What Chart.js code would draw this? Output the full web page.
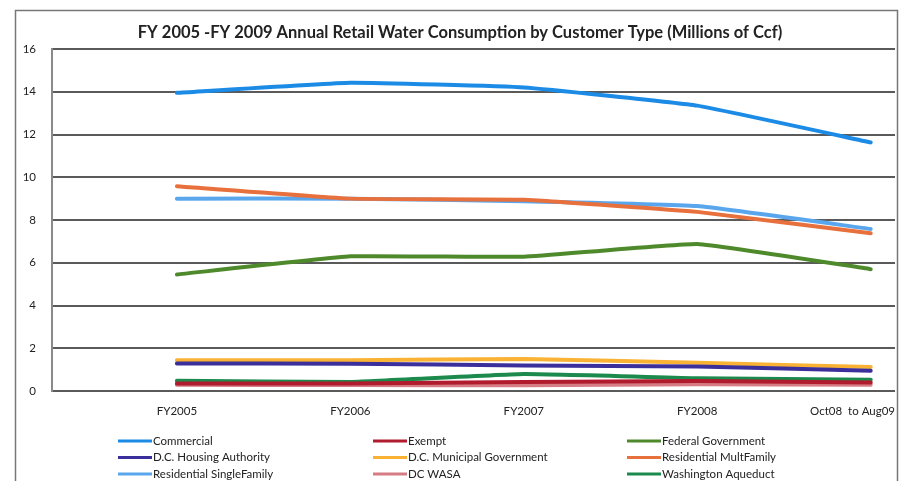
<!DOCTYPE html>
<html>
<head>
<meta charset="utf-8">
<script src="https://cdn.jsdelivr.net/npm/chart.js@4"></script>
<style>
  html, body { margin: 0; padding: 0; background: #fff; }
  #wrap { width: 905px; height: 481px; }
</style>
</head>
<body>
<div id="wrap"><canvas id="myChart" width="905" height="481"></canvas></div>
<script>
// Millions of Ccf per customer type, FY2005 .. Oct08-Aug09
var years = ['FY2005', 'FY2006', 'FY2007', 'FY2008', 'Oct08  to Aug09'];
var yTicks = [0, 2, 4, 6, 8, 10, 12, 14, 16];

var commercial = [13.95, 14.42, 14.2, 13.35, 11.63];
var exempt = [0.35, 0.35, 0.42, 0.47, 0.4];
var federalGov = [5.45, 6.3, 6.28, 6.88, 5.7];
var housingAuthority = [1.29, 1.28, 1.19, 1.15, 0.95];
var municipalGov = [1.44, 1.44, 1.5, 1.32, 1.12];
var residentialMulti = [9.58, 9.0, 8.95, 8.38, 7.38];
var residentialSingle = [9.0, 9.0, 8.88, 8.65, 7.58];
var dcWasa = [0.29, 0.28, 0.27, 0.32, 0.29];
var aqueduct = [0.48, 0.42, 0.79, 0.6, 0.53];

var fontFamily = 'Lato, "Liberation Sans", sans-serif';

function series(label, values, color) {
    return {
        label: label,
        data: values.map(function (v, i) { return { x: i, y: v }; }),
        borderColor: color,
        backgroundColor: color,
        borderWidth: 4,
        pointRadius: 0,
        tension: 0.1,
        borderCapStyle: 'round',
        borderJoinStyle: 'round'
    };
}

// frame, title, category labels and a 3-column legend under the axis
var decorations = {
    id: 'decorations',
    beforeDraw: function (chart) {
        var c = chart.ctx;
        c.save();
        c.strokeStyle = '#777';
        c.lineWidth = 1.5;
        c.strokeRect(15.5, 10.5, 882, 480);
        c.restore();
    },
    afterDraw: function (chart) {
        var c = chart.ctx;
        var area = chart.chartArea;
        c.save();
        c.fillStyle = '#222';
        c.font = 'bold 16.5px ' + fontFamily;
        c.textAlign = 'center';
        c.textBaseline = 'middle';
        c.fillText('FY 2005 -FY 2009 Annual Retail Water Consumption by Customer Type (Millions of Ccf)', 460, 33);

        // category labels, kept inside the plot's right edge
        c.font = '11.5px ' + fontFamily;
        var xs = chart.scales.x;
        years.forEach(function (label, i) {
            var w = c.measureText(label).width;
            var cx = Math.min(xs.getPixelForValue(i), area.right - w / 2);
            c.fillText(label, cx, area.bottom + 20);
        });

        var colX = [118, 373, 627];
        var rowY = [441, 457.5, 474];
        c.textAlign = 'left';
        chart.data.datasets.forEach(function (ds, i) {
            var x = colX[i % 3];
            var y = rowY[Math.floor(i / 3)];
            c.strokeStyle = ds.borderColor;
            c.lineWidth = 3;
            c.beginPath();
            c.moveTo(x, y);
            c.lineTo(x + 34, y);
            c.stroke();
            c.fillStyle = '#222';
            c.fillText(ds.label, x + 35, y);
        });
        c.restore();
    }
};

var ctx = document.getElementById('myChart').getContext('2d');
var myChart = new Chart(ctx, {
    type: 'line',
    data: {
        datasets: [
            series('Commercial', commercial, '#1b8be6'),
            series('Exempt', exempt, '#b01c2e'),
            series('Federal Government', federalGov, '#4e8a2c'),
            series('D.C. Housing Authority', housingAuthority, '#3b2f9c'),
            series('D.C. Municipal Government', municipalGov, '#f9b234'),
            series('Residential MultFamily', residentialMulti, '#e8703c'),
            series('Residential SingleFamily', residentialSingle, '#5aa6ec'),
            series('DC WASA', dcWasa, '#d67c84'),
            series('Washington Aqueduct', aqueduct, '#1b8a4c')
        ]
    },
    options: {
        responsive: false,
        animation: false,
        layout: { padding: { top: 49, right: 10, left: 0, bottom: 0 } },
        plugins: {
            legend: { display: false },
            title: { display: false },
            tooltip: { enabled: false }
        },
        scales: {
            x: {
                type: 'linear',
                min: -0.72,
                max: 4.14,
                afterBuildTicks: function (scale) {
                    scale.ticks = years.map(function (y, i) { return { value: i }; });
                },
                afterFit: function (scale) {
                    scale.height = 90;
                    scale.paddingLeft = 0;
                    scale.paddingRight = 0;
                },
                grid: { display: false, drawTicks: false },
                border: { display: false },
                ticks: { display: false }
            },
            y: {
                min: 0,
                max: 16,
                afterBuildTicks: function (scale) {
                    scale.ticks = yTicks.map(function (v) { return { value: v }; });
                },
                afterFit: function (scale) { scale.width = 52; },
                grid: { color: '#5a5a5a', lineWidth: 2, drawTicks: false },
                border: { display: true, color: '#8a8a8a', width: 2 },
                ticks: {
                    padding: 16,
                    color: '#222',
                    font: { family: fontFamily, size: 11.5 }
                }
            }
        }
    },
    plugins: [decorations]
});
</script>
</body>
</html>
